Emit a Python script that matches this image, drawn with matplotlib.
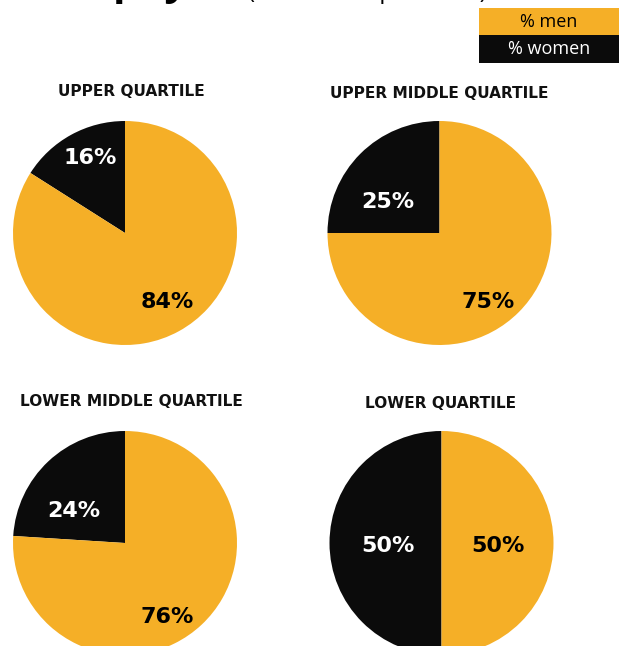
import matplotlib
matplotlib.use("Agg")
import matplotlib.pyplot as plt
from matplotlib.patches import Rectangle

# ---- data ----
quartiles = ["UPPER QUARTILE", "UPPER MIDDLE QUARTILE", "LOWER MIDDLE QUARTILE", "LOWER QUARTILE"]
pct_women = [16, 25, 24, 50]
pct_men = [84, 75, 76, 50]
legend_labels = ["% men", "% women"]
title_bold = "Gender pay"
title_rest = "(headcount per band)"

# ---- style ----
ORANGE = "#F5AF27"
BLACK = "#0B0B0B"
W, H = 622, 646
fig = plt.figure(figsize=(W / 100, H / 100), dpi=100)

def fx(x):
    return x / W

def fy(y):
    return 1 - y / H

# pie layout: centre (px) and radius (px)
centres = [(125, 233), (439.5, 233), (125, 543), (441.5, 543)]
R = 112
title_y = [92, 93, 402, 403]
title_x = [131, 439, 131, 441]
# label offsets in radius units [(women), (men)]
label_pos = [
    [(-0.31, 0.67), (0.38, -0.62)],
    [(-0.46, 0.28), (0.43, -0.62)],
    [(-0.46, 0.29), (0.38, -0.66)],
    [(-0.48, -0.03), (0.50, -0.03)],
]

for i, q in enumerate(quartiles):
    cx, cy = centres[i]
    ax = fig.add_axes([fx(cx - R), fy(cy + R), 2 * R / W, 2 * R / H])
    wedges, texts, autotexts = ax.pie(
        [pct_women[i], pct_men[i]],
        colors=[BLACK, ORANGE],
        startangle=90,
        counterclock=True,
        radius=1,
        autopct="%d%%",
        pctdistance=0.6,
        wedgeprops=dict(linewidth=0),
        textprops=dict(fontfamily="DejaVu Sans", fontweight="bold", fontsize=16),
    )
    ax.set_xlim(-1, 1)
    ax.set_ylim(-1, 1)
    ax.set_aspect("equal")
    ax.axis("off")
    for k, t in enumerate(autotexts):
        t.set_position(label_pos[i][k])
        t.set_color("white" if k == 0 else "black")
        t.set_ha("center")
        t.set_va("center")
    fig.text(fx(title_x[i]), fy(title_y[i]), q, ha="center", va="center",
             fontfamily="DejaVu Sans", fontweight="bold", fontsize=11.1, color="#111111")

# legend boxes
fig.patches.append(Rectangle((fx(479), fy(35)), fx(140), 27 / H, transform=fig.transFigure,
                             facecolor=ORANGE, edgecolor="none"))
fig.patches.append(Rectangle((fx(479), fy(63)), fx(140), 28 / H, transform=fig.transFigure,
                             facecolor=BLACK, edgecolor="none"))
fig.text(fx(549), fy(22), legend_labels[0], ha="center", va="center",
         fontfamily="Open Sans", fontsize=13, color="black")
fig.text(fx(549), fy(49.5), legend_labels[1], ha="center", va="center",
         fontfamily="Open Sans", fontsize=13, color="white")

# title, clipped at the very top as in the reference
fig.text(fx(188), fy(-6), title_bold, ha="right", va="baseline",
         fontfamily="Open Sans", fontweight="bold", fontsize=30, color="black")
fig.text(fx(248), fy(-1.5), title_rest, ha="left", va="baseline",
         fontfamily="Open Sans", fontsize=17, color="black")

fig.savefig("out.png", dpi=100)
